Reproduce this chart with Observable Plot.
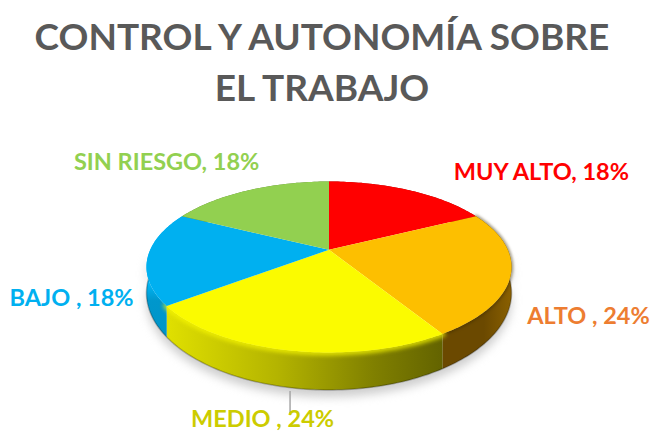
<!DOCTYPE html>
<html>
<head>
<meta charset="utf-8">
<script src="https://cdn.jsdelivr.net/npm/d3@7"></script>
<script src="https://cdn.jsdelivr.net/npm/@observablehq/plot@0.6"></script>
<style>
html,body{margin:0;padding:0;background:#fff;overflow:hidden}
#title{height:120px;box-sizing:border-box;padding-top:10px;width:644px;text-align:center;font:bold 37px/51px Lato,sans-serif;color:#595959}
svg{display:block}
</style>
</head>
<body>
<div id="title">CONTROL Y AUTONOMÍA SOBRE<br>EL TRABAJO</div>
<div id="chart"></div>
<script>
// Data
const categories = ["MUY ALTO", "ALTO", "MEDIO", "BAJO", "SIN RIESGO"];
const values = [18, 24, 24, 18, 18];
const labels = ["MUY ALTO, 18%", "ALTO , 24%", "MEDIO , 24%", "BAJO , 18%", "SIN RIESGO, 18%"];
// Styles
const faceColors = ["#ff0000", "#fdbf00", "#fbfb00", "#00b0f0", "#92d050"];
const sideFills = ["#990000", "url(#sideOrange)", "url(#sideYellow)", "url(#sideBlue)", "#587d30"];
const labelColors = ["#ff0000", "#ed7d31", "#cccc00", "#00b0f0", "#92d050"];
const labelDx = [132, 77.5, -25.5, -76, -82];
const labelDy = [-18, 43, 69, 41, -28];

// Perspective view of the unit disc
const k = 0.201, wallDepth = 0.292;
const total = d3.sum(values);
const project = (t, wall = false) => {
  const u = Math.sin(t), v = Math.cos(t), w = 1 + k * v;
  return {x: u / w, y: v / w - (wall ? wallDepth / (w * w) : 0)};
};
let cum = 0;
const slices = categories.map((c, i) => {
  const a0 = cum / total * 2 * Math.PI;
  cum += values[i];
  const a1 = cum / total * 2 * Math.PI;
  return {c, i, a0, a1, mid: (a0 + a1) / 2};
});
const arc = (s, wall = false) => {
  const n = Math.ceil((s.a1 - s.a0) / 0.02);
  return d3.range(n + 1).map((j) => project(s.a0 + (s.a1 - s.a0) * j / n, wall));
};
const face = (s) => [{x: 0, y: 0}, ...arc(s), {x: 0, y: 0}];
const side = (s) => [...arc(s), ...arc(s, true).reverse()];
const front = {a0: Math.PI / 2, a1: 3 * Math.PI / 2};
const pts = {x: "x", y: "y"};

const defs = () => d3.create("svg:defs").html(`
  <linearGradient id="sideYellow" x1="0" x2="1" y1="0" y2="0">
    <stop offset="0" stop-color="#e0e000"/><stop offset="0.4" stop-color="#b4b400"/>
    <stop offset="0.75" stop-color="#808000"/><stop offset="1" stop-color="#636300"/>
  </linearGradient>
  <linearGradient id="sideOrange" x1="0" x2="1" y1="0" y2="0">
    <stop offset="0" stop-color="#6b4900"/><stop offset="0.6" stop-color="#6b4900"/><stop offset="1" stop-color="#8a6000"/>
  </linearGradient>
  <linearGradient id="sideBlue" x1="0" x2="0" y1="0" y2="1">
    <stop offset="0" stop-color="#00b8f8"/><stop offset="0.55" stop-color="#00b8f8"/>
    <stop offset="0.7" stop-color="#0097cc"/><stop offset="1" stop-color="#0095c8"/>
  </linearGradient>`).node();

const chart = Plot.plot({
  width: 651,
  height: 311,
  margin: 0,
  x: {domain: [-328.5 / 178.8, 322.5 / 178.8], range: [0, 651], axis: null},
  y: {domain: [129.3 / 82, -181.7 / 82], range: [0, 311], axis: null},
  marks: [
    defs,
    // soft shadow under the disc
    Plot.line(side(front), {...pts, fill: "#bdbdbd", dy: 7, imageFilter: "blur(5px)", opacity: 0.75}),
    // walls
    ...slices.map((s) => Plot.line(side(s), {...pts, fill: sideFills[s.i]})),
    // lower edge of the wall
    Plot.line(arc(front, true), {...pts, stroke: "#000", strokeOpacity: 0.25, strokeWidth: 1.5, imageFilter: "blur(0.6px)"}),
    // bevel around the rim
    Plot.line(arc(slices[1]), {...pts, stroke: "#3a2a00", strokeWidth: 3, strokeOpacity: 0.55, imageFilter: "blur(1.5px)"}),
    Plot.line(arc(slices[2]), {...pts, stroke: "#f4f400", strokeWidth: 6, strokeOpacity: 0.8, imageFilter: "blur(2px)"}),
    // top faces
    ...slices.map((s) => Plot.line(face(s), {...pts, fill: faceColors[s.i]})),
    // leader line for MEDIO
    Plot.ruleX([project(slices[2].mid).x], {
      y1: project(slices[2].mid, true).y - 0.05,
      y2: project(slices[2].mid, true).y - 0.32,
      stroke: "#a6a6a6", strokeWidth: 1.5, dx: 2
    }),
    // labels
    ...slices.map((s) => Plot.text([project(s.mid)], {
      ...pts, text: () => labels[s.i], fill: labelColors[s.i],
      fontFamily: "Lato", fontWeight: "bold", fontSize: 23.5,
      dx: labelDx[s.i], dy: labelDy[s.i], textAnchor: "middle", lineAnchor: "middle"
    }))
  ]
});
document.getElementById("chart").append(chart);
</script>
</body>
</html>
